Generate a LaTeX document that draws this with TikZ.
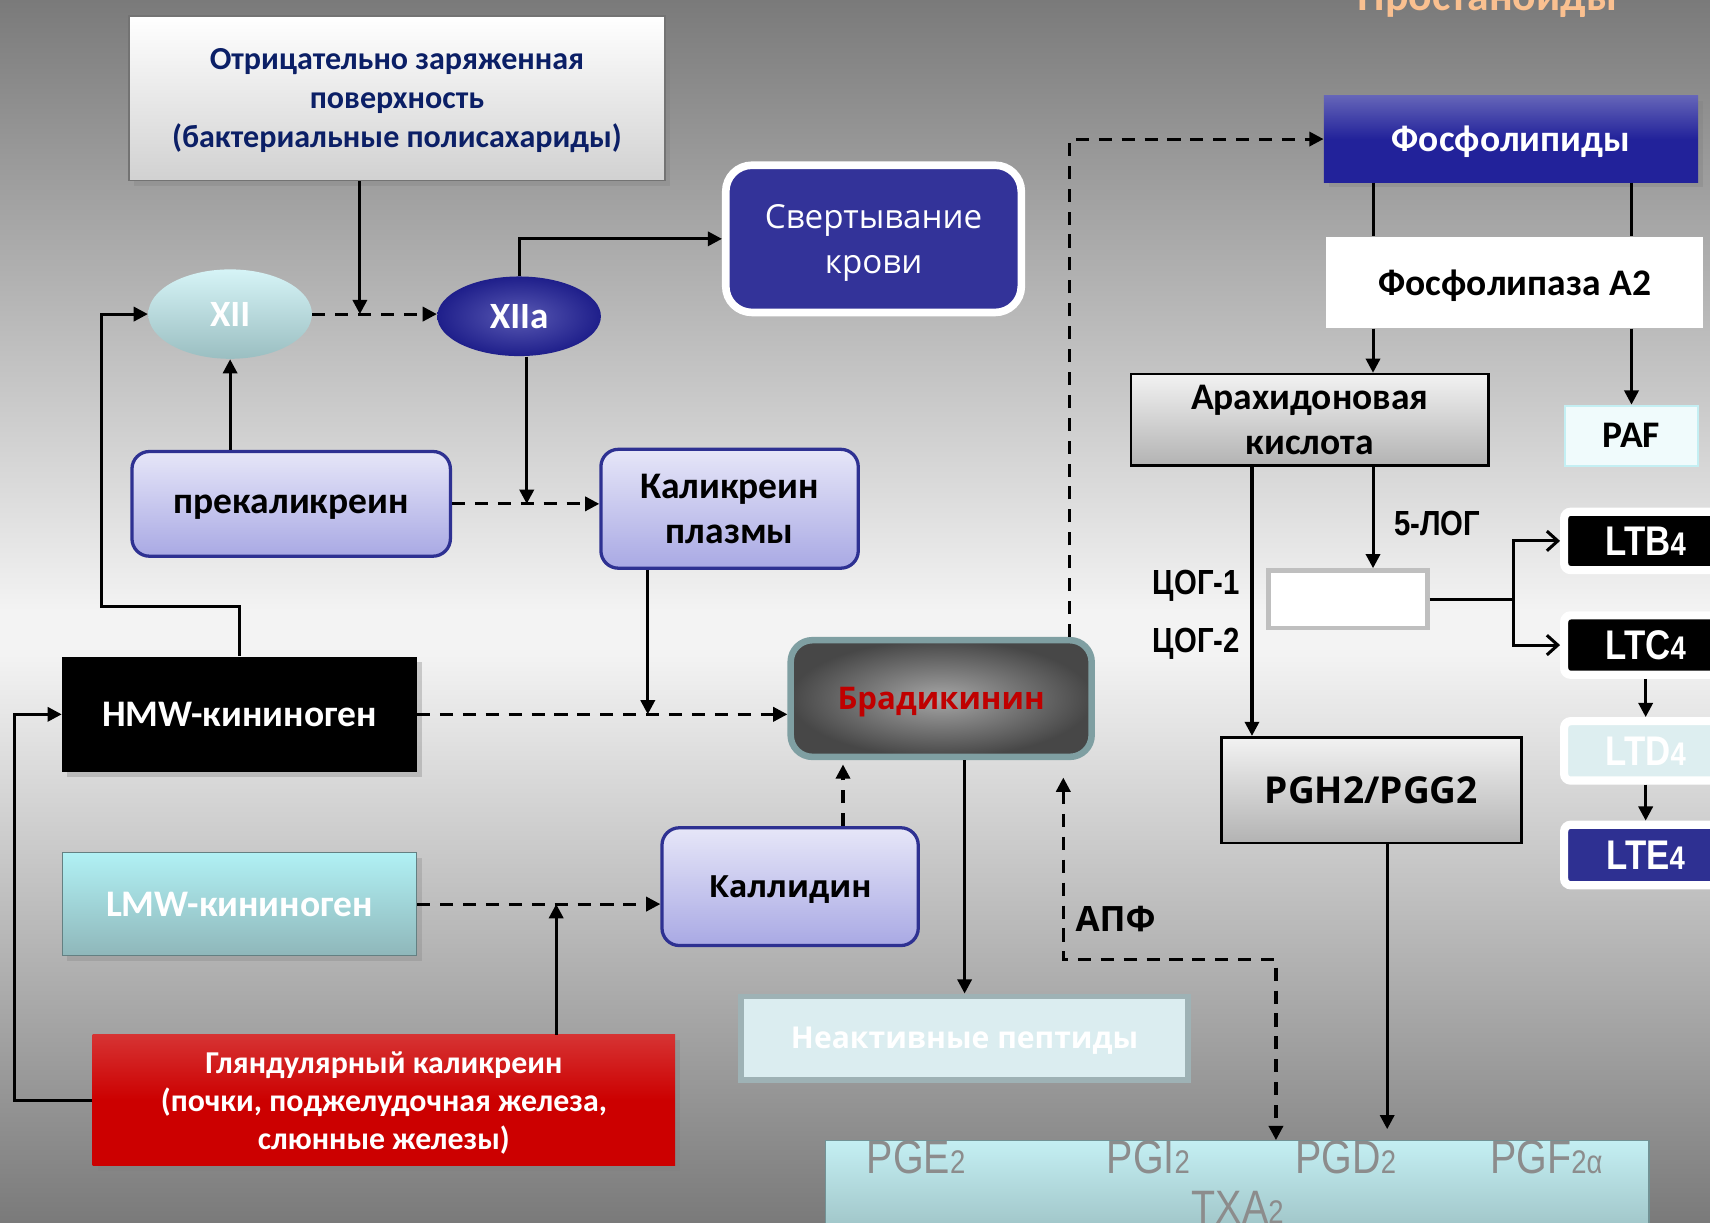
\documentclass[tikz,border=0pt]{standalone}
\usepackage{fontspec}
\setmainfont{Carlito}
\newfontfamily\opensans{Open Sans}
\newfontfamily\narrowsans{Liberation Sans}[FakeStretch=0.84]
\usetikzlibrary{shapes.geometric,arrows.meta,shadows}

\newcommand{\fsz}[2]{\fontsize{#1}{#2}\selectfont}

\definecolor{bgdark}{HTML}{7A7A7A}
\definecolor{bglight}{HTML}{F3F3F3}
\definecolor{navytext}{HTML}{0B1F66}
\definecolor{clotblue}{HTML}{333399}
\definecolor{lavtop}{HTML}{E6E6F8}
\definecolor{lavbot}{HTML}{A9A9E4}
\definecolor{lavdraw}{HTML}{2E3192}
\definecolor{cyantop}{HTML}{C4EFF3}
\definecolor{cyanbot}{HTML}{8FB7BA}
\definecolor{bradrim}{HTML}{7F9FA2}
\definecolor{bradred}{HTML}{C00000}
\definecolor{glandred}{HTML}{CC0000}
\definecolor{inactfill}{HTML}{DBEDF0}
\definecolor{inactrim}{HTML}{9EB2B5}
\definecolor{phosblue}{HTML}{22229A}
\definecolor{peach}{HTML}{FAC090}
\definecolor{ltdfill}{HTML}{DDEEF0}
\definecolor{ltefill}{HTML}{2E3092}

\tikzset{
  box/.style      = {shape=rectangle, inner sep=0pt, align=center, text depth=0pt,
                     font=\bfseries\fsz{17.2}{20.5}},
  surface/.style  = {box, draw=black!55, line width=0.8pt,
                     top color=white, bottom color=black!18,
                     text=navytext, font=\bfseries\fsz{14.7}{18},
                     drop shadow={opacity=0.3}},
  clotbox/.style  = {box, rounded corners=12pt, fill=clotblue, draw=white,
                     line width=3.5pt, text=white,
                     font=\opensans\fsz{15.2}{20.5}},
  factor/.style   = {ellipse, inner sep=0pt, text=white, text depth=0pt,
                     font=\bfseries\fsz{17}{20}},
  enzyme/.style   = {box, rounded corners=8pt, draw=lavdraw, line width=1.5pt,
                     top color=lavtop, bottom color=lavbot},
  hmwbox/.style   = {box, fill=black, text=white,
                     drop shadow={opacity=0.35}},
  lmwbox/.style   = {box, draw=cyanbot!70!black, line width=0.6pt,
                     top color=cyantop!90!cyan, bottom color=cyanbot, text=white,
                     drop shadow={opacity=0.3}},
  bradbox/.style  = {box, rounded corners=10pt, draw=bradrim, line width=3pt,
                     inner color=black!35, outer color=black!72,
                     text=bradred, font=\opensans\bfseries\fsz{14.3}{18}},
  glandbox/.style = {box, top color=glandred!80!white, bottom color=glandred,
                     middle color=glandred, text=white,
                     font=\bfseries\fsz{14.6}{17.5}, drop shadow={opacity=0.35}},
  inactbox/.style = {box, fill=inactfill, draw=inactrim, line width=2.5pt,
                     text=white, font=\opensans\bfseries\fsz{13.8}{18}},
  pgbox/.style    = {box, top color=cyantop, bottom color=cyanbot!90!white,
                     draw=cyanbot!80!black, line width=0.6pt},
  pgtext/.style   = {inner sep=0pt, anchor=base, text=black!45,
                     font=\narrowsans\fsz{21.5}{22}},
  phosbox/.style  = {box, top color=phosblue!70!white, bottom color=phosblue,
                     middle color=phosblue, text=white,
                     drop shadow={opacity=0.35}},
  graybox/.style  = {box, draw=black, line width=1.2pt,
                     top color=black!5, bottom color=black!30},
  pafbox/.style   = {box, fill=cyantop!25!white, draw=cyantop, line width=1pt},
  loxbox/.style   = {box, fill=white, draw=black!25, line width=2pt},
  ltbox/.style    = {box, draw=white, line width=3.75pt, rounded corners=3pt,
                     text=white, font=\narrowsans\bfseries\fsz{19}{20}},
  lbl/.style      = {inner sep=0pt, font=\narrowsans\bfseries\fsz{16}{18}},
  title/.style    = {inner sep=0pt, anchor=base, text=peach,
                     font=\bfseries\fsz{20}{22}},
  conn/.style     = {line width=1.4pt},
  arr/.style      = {conn, -{Triangle[length=6.5pt,width=6.5pt]}},
  darr/.style     = {arr, dash pattern=on 6pt off 4.5pt},
  ddarr/.style    = {conn, dash pattern=on 6pt off 4.5pt,
                     {Triangle[length=6.5pt,width=6.5pt]}-{Triangle[length=6.5pt,width=6.5pt]}},
  oarr/.style     = {conn, -{Straight Barb[length=5pt,width=9pt]}}
}

\begin{document}
\begin{tikzpicture}[x=0.5pt, y=-0.5pt]
  \useasboundingbox (0,0) rectangle (1568,1121);
  \clip (0,0) rectangle (1568,1121);
  % background
  \shade[top color=bgdark, bottom color=bglight] (0,0) rectangle (1568,560);
  \fill[bglight] (0,559) rectangle (1568,601);
  \shade[top color=bglight, bottom color=bgdark] (0,600) rectangle (1568,1121);

  \node[title] (ttl) at (1364,10) {Простаноиды};

  % kinin side
  \node[surface, minimum width=246pt, minimum height=75.5pt] (srf) at (364,90)
    {Отрицательно заряженная\\поверхность\\(бактериальные полисахариды)};
  \node[clotbox, minimum width=135.5pt, minimum height=67.5pt] (clot) at (801,219)
    {Свертывание\\крови};
  \node[factor, minimum width=75pt, minimum height=41pt,
        top color=cyantop!70!white, bottom color=cyanbot!90!white] (xii) at (211,288) {XII};
  \node[factor, minimum width=75pt, minimum height=36.5pt,
        inner color=phosblue!75!white, outer color=phosblue!90!black] (xiia) at (476,290) {XIIa};
  \node[enzyme, minimum width=146pt, minimum height=48pt] (prek) at (267,462) {прекаликреин};
  \node[enzyme, minimum width=118pt, minimum height=54.5pt]
    (kalp) at (669,466.5) {Каликреин\\плазмы};
  \node[hmwbox, minimum width=162.5pt, minimum height=53pt] (hmw) at (219.5,655) {HMW-кининоген};
  \node[bradbox, minimum width=138pt, minimum height=53.5pt] (brad) at (863,640.5) {Брадикинин};
  \node[lmwbox, minimum width=162.5pt, minimum height=47pt] (lmw) at (219.5,829) {LMW-кининоген};
  \node[enzyme, minimum width=117.5pt, minimum height=54pt, font=\opensans\bfseries\fsz{14}{18}]
    (kall) at (724.5,813) {Каллидин};
  \node[glandbox, minimum width=267pt, minimum height=60pt] (gland) at (352,1009)
    {Гляндулярный каликреин\\(почки, поджелудочная железа,\\слюнные железы)};
  \node[inactbox, minimum width=205pt, minimum height=38.5pt] (inact) at (884.5,952) {Неактивные пептиды};

  % prostanoid side
  \node[pgbox, minimum width=377.5pt, minimum height=47pt] (pgbar) at (1134.5,1093) {};
  \node[pgtext] (pge) at (840,1076) {PGE{\fsz{15}{15}2}};
  \node[pgtext] (pgi) at (1053,1076) {PGI{\fsz{15}{15}2}};
  \node[pgtext] (pgd) at (1234,1076) {PGD{\fsz{15}{15}2}};
  \node[pgtext] (pgf) at (1418,1076) {PGF{\fsz{15}{15}2α}};
  \node[pgtext] (txa) at (1135,1122) {TXA{\fsz{15}{15}2}};

  \node[phosbox, minimum width=171.5pt, minimum height=39.5pt] (phos) at (1385.5,127.5) {Фосфолипиды};
  \node[box, fill=white, minimum width=173pt, minimum height=42pt] (pla2) at (1389,259) {Фосфолипаза А2};
  \node[graybox, minimum width=164pt, minimum height=42pt]
    (arach) at (1201,385) {Арахидоновая\\кислота};
  \node[pafbox, minimum width=61pt, minimum height=27.5pt] (paf) at (1496,399.5) {PAF};
  \node[loxbox, minimum width=73pt, minimum height=26.5pt] (lox) at (1236,549.5) {};
  \node[graybox, minimum width=137.5pt, minimum height=48.5pt, font=\opensans\bfseries\fsz{17}{20}]
    (pgh) at (1257.5,724.5) {PGH2/PGG2};

  \node[ltbox, fill=black, minimum width=74.75pt, minimum height=26.75pt] (ltb) at (1509,496) {LTB{\fsz{15}{15}4}};
  \node[ltbox, fill=black, minimum width=74.75pt, minimum height=27.25pt] (ltc) at (1509,591.5) {LTC{\fsz{15}{15}4}};
  \node[ltbox, fill=ltdfill, minimum width=74.75pt, minimum height=27.25pt] (ltd) at (1509,688.5) {LTD{\fsz{15}{15}4}};
  \node[ltbox, fill=ltefill, minimum width=74.75pt, minimum height=27.75pt] (lte) at (1509,784) {LTE{\fsz{15}{15}4}};

  \node[lbl] (log) at (1318,480) {5-ЛОГ};
  \node[lbl] (cox1) at (1097,537) {ЦОГ-1};
  \node[lbl] (cox2) at (1097,590) {ЦОГ-2};
  \node[lbl, font=\opensans\bfseries\fsz{16}{18}] (ace) at (1023,843) {АПФ};

  % junctions
  \coordinate (j1) at (330,288);
  \coordinate (j2) at (483,462);
  \coordinate (j3) at (594,655);
  \coordinate (j4) at (510,829);
  \coordinate (c1) at (93,556);
  \coordinate (c2) at (13,1009);
  \coordinate (c3) at (773,760);
  \coordinate (c5) at (975,880);
  \coordinate (c6) at (1170,880);
  \coordinate (c7) at (981,500);
  \coordinate (c8) at (1259,300);
  \coordinate (c9) at (1148,600);
  \coordinate (c10) at (1388,549.5);
  \coordinate (c11) at (1272,800);

  % connectors
  \draw[arr] (srf.south -| j1) -- (j1);
  \draw[darr] (xii.east) -- (xii.east -| xiia.west);
  \draw[arr] (xiia.north) |- (clot.west);
  \draw[arr] (xiia.south -| j2) -- (j2);
  \draw[darr] (prek.east) -- (prek.east -| kalp.west);
  \draw[arr] (xii.south |- prek.north) -- (xii.south);
  \draw[arr] (hmw.north) |- (c1) |- (xii.west);
  \draw[darr] (hmw.east) -- (hmw.east -| brad.west);
  \draw[arr] (kalp.south -| j3) -- (j3);
  \draw[arr] (gland.west) -- (c2) |- (hmw.west);
  \draw[darr] (lmw.east) -- (lmw.east -| kall.west);
  \draw[arr] (gland.north -| j4) -- (j4);
  \draw[darr, shorten >=2pt] (kall.north -| c3) -- (brad.south -| c3);
  \draw[arr] (brad.south -| inact.north) -- (inact.north);
  \draw[ddarr, shorten <=8pt] (brad.south -| c5) -- (c5) -- (c6) -- (c6 |- pgbar.north);
  \draw[darr] (brad.north -| c7) |- (phos.west);
  \draw[conn] (phos.south -| c8) -- (pla2.north -| c8);
  \draw[conn] (phos.south -| paf.north) -- (pla2.north -| paf.north);
  \draw[arr] (pla2.south -| c8) -- (arach.north -| c8);
  \draw[arr] (pla2.south -| paf.north) -- (paf.north);
  \draw[arr] (arach.south -| c8) -- (lox.north -| c8);
  \draw[arr] (arach.south -| c9) -- (pgh.north -| c9);
  \draw[conn] (lox.east) -- (c10);
  \draw[oarr] (c10) |- (ltb.west);
  \draw[oarr] (c10) |- (ltc.west);
  \draw[arr] (ltc.south) -- (ltd.north);
  \draw[arr] (ltd.south) -- (lte.north);
  \draw[arr, shorten >=5pt] (pgh.south -| c11) -- (pgbar.north -| c11);
\end{tikzpicture}
\end{document}
